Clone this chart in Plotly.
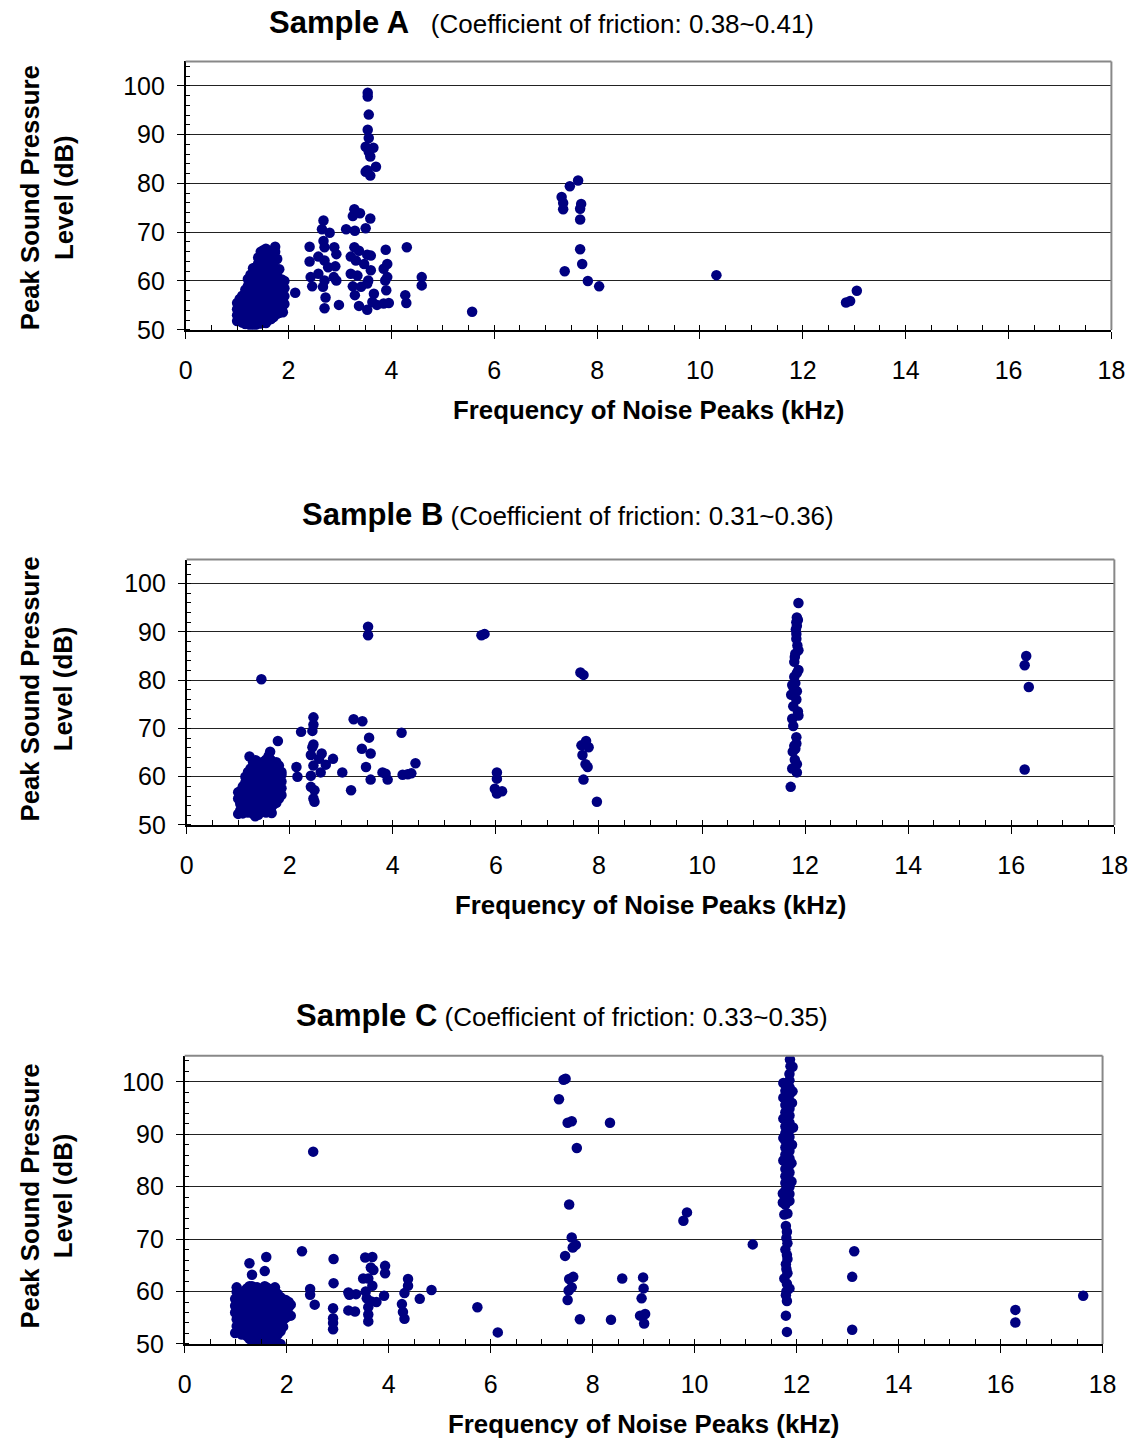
import plotly.graph_objects as go

W, H = 1147, 1454

titles = ["Sample A", "Sample B", "Sample C"]
subtitles = ["(Coefficient of friction: 0.38~0.41)",
             "(Coefficient of friction: 0.31~0.36)",
             "(Coefficient of friction: 0.33~0.35)"]
x_title = "Frequency of Noise Peaks (kHz)"
y_title = "Peak Sound Pressure<br>Level (dB)"
x_ticks = [0, 2, 4, 6, 8, 10, 12, 14, 16, 18]
y_ticks = [50, 60, 70, 80, 90, 100]

# ---------------- Sample A (frequency kHz, level dB) ----------------
a_points = [
    # dense low-frequency cluster
    (1.00, 51.8), (1.00, 53.0), (1.00, 54.2), (1.00, 55.5),
    (1.05, 52.4), (1.05, 53.8), (1.05, 55.0), (1.05, 56.3),
    (1.10, 51.5), (1.10, 52.9), (1.10, 54.4), (1.10, 55.8), (1.10, 57.0),
    (1.16, 51.2), (1.16, 52.6), (1.16, 54.0), (1.16, 55.3), (1.16, 56.7), (1.16, 58.2),
    (1.21, 51.6), (1.21, 53.1), (1.21, 54.6), (1.21, 56.1), (1.21, 57.6), (1.21, 59.0), (1.21, 60.4),
    (1.26, 50.9), (1.26, 52.3), (1.26, 53.9), (1.26, 55.4), (1.26, 56.9), (1.26, 58.3), (1.26, 59.8), (1.26, 61.3),
    (1.31, 51.4), (1.31, 52.8), (1.31, 54.3), (1.31, 55.8), (1.31, 57.2), (1.31, 58.7), (1.31, 60.2), (1.31, 61.6), (1.31, 62.6),
    (1.36, 51.0), (1.36, 52.5), (1.36, 54.0), (1.36, 55.5), (1.36, 57.0), (1.36, 58.4), (1.36, 59.9), (1.36, 61.4), (1.36, 62.8),
    (1.41, 51.7), (1.41, 53.2), (1.41, 54.7), (1.41, 56.2), (1.41, 57.7), (1.41, 59.2), (1.41, 60.6), (1.41, 62.1), (1.41, 63.6), (1.41, 64.8),
    (1.46, 51.3), (1.46, 52.8), (1.46, 54.3), (1.46, 55.9), (1.46, 57.4), (1.46, 58.8), (1.46, 60.3), (1.46, 61.8), (1.46, 63.3), (1.46, 64.9), (1.46, 66.0),
    (1.51, 51.8), (1.51, 53.4), (1.51, 54.9), (1.51, 56.4), (1.51, 57.9), (1.51, 59.5), (1.51, 61.0), (1.51, 62.5), (1.51, 64.0), (1.51, 65.5), (1.51, 66.3),
    (1.56, 51.4), (1.56, 52.9), (1.56, 54.5), (1.56, 56.0), (1.56, 57.5), (1.56, 59.0), (1.56, 60.6), (1.56, 62.1), (1.56, 63.6), (1.56, 65.0), (1.56, 66.6),
    (1.61, 52.0), (1.61, 53.5), (1.61, 55.1), (1.61, 56.6), (1.61, 58.1), (1.61, 59.7), (1.61, 61.2), (1.61, 62.7), (1.61, 64.3), (1.61, 65.8),
    (1.66, 52.2), (1.66, 53.7), (1.66, 55.2), (1.66, 56.8), (1.66, 58.3), (1.66, 59.8), (1.66, 61.3), (1.66, 62.9), (1.66, 64.6),
    (1.71, 52.6), (1.71, 54.1), (1.71, 55.7), (1.71, 57.2), (1.71, 58.7), (1.71, 60.2), (1.71, 61.8), (1.71, 63.3),
    (1.74, 67.0), (1.74, 66.0),
    (1.78, 53.3), (1.78, 54.9), (1.78, 56.4), (1.78, 57.9), (1.78, 59.5), (1.78, 61.0), (1.78, 64.5),
    (1.82, 53.5), (1.82, 55.2), (1.82, 56.8), (1.82, 58.3), (1.82, 59.9), (1.82, 62.4),
    (1.87, 54.2), (1.87, 55.8), (1.87, 57.4), (1.87, 58.9), (1.87, 60.3), (1.89, 53.6),
    (1.92, 55.3), (1.92, 56.9), (1.92, 58.5), (1.92, 60.0),
    (2.13, 57.6),
    # 2.4 - 3 kHz
    (2.41, 67.0), (2.41, 64.0), (2.43, 60.8), (2.46, 58.9), (2.68, 72.4), (2.65, 70.6),
    (2.80, 69.9), (2.68, 68.2), (2.70, 66.9), (2.89, 66.9), (2.93, 65.5), (2.58, 65.0),
    (2.70, 64.2), (2.77, 62.8), (2.91, 63.0), (2.58, 61.5), (2.70, 60.1), (2.67, 58.8),
    (2.88, 60.8), (2.93, 60.1), (2.72, 56.6), (2.70, 54.4), (2.98, 55.1),
    # 3.1 - 3.7 kHz
    (3.12, 70.6), (3.28, 74.7), (3.25, 73.3), (3.39, 73.9), (3.29, 70.3), (3.50, 70.8),
    (3.59, 72.8), (3.28, 66.9), (3.37, 66.2), (3.53, 65.4), (3.60, 65.2), (3.21, 65.0),
    (3.31, 64.2), (3.47, 63.5), (3.60, 62.2), (3.21, 61.5), (3.34, 61.1), (3.55, 60.1),
    (3.25, 58.9), (3.41, 58.8), (3.53, 59.5), (3.29, 57.1), (3.66, 57.4), (3.63, 55.7),
    (3.37, 54.9), (3.53, 54.1), (3.72, 55.1),
    # high peaks near 3.5 kHz
    (3.54, 98.6), (3.54, 97.8), (3.56, 94.1), (3.54, 91.0), (3.56, 89.3), (3.50, 87.5),
    (3.65, 87.3), (3.56, 86.5), (3.59, 85.5), (3.70, 83.4), (3.50, 82.4), (3.59, 81.6),
    (3.53, 82.7),
    # 3.9 - 4.6 kHz
    (3.89, 66.4), (3.92, 63.5), (3.85, 62.5), (3.92, 60.8), (3.88, 60.1), (3.90, 58.1),
    (3.85, 55.4), (3.95, 55.5), (4.30, 66.9), (4.27, 57.1), (4.29, 55.5), (4.59, 60.8),
    (4.59, 59.1), (5.57, 53.7),
    # 7.3 - 8 kHz
    (7.63, 80.6), (7.47, 79.4), (7.31, 77.2), (7.34, 76.0), (7.34, 74.7), (7.69, 75.8),
    (7.67, 74.8), (7.67, 72.6), (7.67, 66.5), (7.71, 63.5), (7.37, 62.0), (7.82, 60.0),
    (8.04, 58.9),
    # higher
    (10.32, 61.2), (12.84, 55.6), (12.92, 55.9), (13.05, 58.0),
]

# ---------------- Sample B ----------------
b_points = [
    (1.00, 52.3), (1.00, 55.5), (1.00, 56.8),
    (1.04, 53.0), (1.04, 54.4), (1.04, 55.8), (1.04, 57.0),
    (1.09, 52.4), (1.09, 53.8), (1.09, 55.2), (1.09, 56.6), (1.09, 58.0),
    (1.14, 53.2), (1.14, 54.6), (1.14, 56.0), (1.14, 57.4), (1.14, 58.8), (1.14, 60.0),
    (1.19, 52.6), (1.19, 54.0), (1.19, 55.4), (1.19, 56.8), (1.19, 58.2), (1.19, 59.6), (1.19, 61.0),
    (1.24, 53.3), (1.24, 54.7), (1.24, 56.1), (1.24, 57.5), (1.24, 58.9), (1.24, 60.3), (1.24, 61.7), (1.22, 64.2),
    (1.29, 52.3), (1.29, 53.7), (1.29, 55.1), (1.29, 56.5), (1.29, 57.9), (1.29, 59.3), (1.29, 60.7), (1.29, 62.1), (1.29, 63.0),
    (1.34, 52.8), (1.34, 54.2), (1.34, 55.6), (1.34, 57.0), (1.34, 58.4), (1.34, 59.8), (1.34, 61.2), (1.34, 62.6), (1.34, 63.4), (1.33, 51.8),
    (1.39, 52.1), (1.39, 53.5), (1.39, 54.9), (1.39, 56.3), (1.39, 57.7), (1.39, 59.1), (1.39, 60.5), (1.39, 61.9), (1.39, 63.0),
    (1.44, 52.9), (1.44, 54.3), (1.44, 55.7), (1.44, 57.1), (1.44, 58.5), (1.44, 59.9), (1.44, 61.3), (1.44, 62.7),
    (1.49, 53.4), (1.49, 54.8), (1.49, 56.2), (1.49, 57.6), (1.49, 59.0), (1.49, 60.4), (1.49, 61.8), (1.49, 63.1),
    (1.54, 52.6), (1.54, 54.0), (1.54, 55.4), (1.54, 56.8), (1.54, 58.2), (1.54, 59.6), (1.54, 61.0), (1.54, 62.4), (1.54, 63.5),
    (1.59, 53.0), (1.59, 54.4), (1.59, 55.8), (1.59, 57.2), (1.59, 58.6), (1.59, 60.0), (1.59, 61.4), (1.59, 62.8), (1.59, 64.3),
    (1.62, 65.2), (1.65, 52.5),
    (1.64, 53.6), (1.64, 55.0), (1.64, 56.4), (1.64, 57.8), (1.64, 59.2), (1.64, 60.6), (1.64, 62.0), (1.64, 63.4),
    (1.69, 54.3), (1.69, 55.7), (1.69, 57.1), (1.69, 58.5), (1.69, 59.9), (1.69, 61.3), (1.69, 62.7),
    (1.74, 54.6), (1.74, 56.0), (1.74, 57.4), (1.74, 58.8), (1.74, 60.2), (1.74, 61.6), (1.74, 63.0),
    (1.77, 67.4),
    (1.79, 55.5), (1.79, 56.9), (1.79, 58.3), (1.79, 59.7), (1.79, 61.1), (1.79, 62.3),
    (1.84, 56.2), (1.84, 57.6), (1.84, 59.0), (1.84, 60.4), (1.84, 61.0),
    (1.45, 80.2),
    # 2 - 4.5 kHz
    (2.22, 69.3), (2.13, 62.0), (2.15, 60.0), (2.46, 72.3), (2.46, 70.8), (2.44, 69.5),
    (2.46, 66.7), (2.44, 66.1), (2.41, 64.5), (2.62, 64.8), (2.57, 63.7), (2.70, 62.5),
    (2.84, 63.7), (2.46, 62.3), (2.60, 60.9), (2.41, 60.2), (2.41, 57.9), (2.48, 57.2),
    (2.46, 55.5), (2.48, 54.8), (3.02, 60.9), (3.19, 57.2), (3.24, 71.9), (3.41, 71.5),
    (3.54, 68.1), (3.40, 65.8), (3.57, 64.8), (3.48, 62.0), (3.57, 59.4), (4.17, 69.1),
    (4.44, 62.8), (3.80, 60.9), (3.86, 60.6), (3.90, 59.4), (4.19, 60.4), (4.29, 60.5),
    (4.36, 60.7), (3.52, 91.1), (3.52, 89.3),
    # 5.7 - 8 kHz
    (5.72, 89.3), (5.78, 89.6), (6.02, 60.9), (6.02, 59.6), (5.98, 57.5), (6.02, 56.5),
    (6.12, 57.0), (7.64, 81.6), (7.70, 81.1), (7.75, 67.4), (7.66, 66.5), (7.80, 66.1),
    (7.68, 64.5), (7.74, 62.6), (7.78, 62.0), (7.70, 59.4), (7.96, 54.8),
    # ~12 kHz column
    (11.87, 96.0), (11.84, 93.0), (11.83, 92.0), (11.84, 91.3), (11.83, 89.6), (11.83, 88.6),
    (11.87, 86.2), (11.81, 85.5), (11.79, 83.8), (11.87, 82.1), (11.79, 80.7), (11.81, 79.4),
    (11.75, 79.0), (11.84, 77.7), (11.73, 77.0), (11.83, 76.0), (11.77, 74.6), (11.87, 72.7),
    (11.75, 72.0), (11.77, 70.5), (11.83, 68.2), (11.79, 66.4), (11.81, 65.8), (11.76, 65.2),
    (11.84, 62.6), (11.75, 61.7), (11.84, 60.9), (11.72, 57.9), (11.86, 92.5), (11.82, 90.5),
    (11.85, 87.2), (11.80, 84.8), (11.84, 81.5), (11.78, 78.3), (11.86, 73.5), (11.80, 63.5),
    (11.83, 66.9),
    # ~16 kHz
    (16.29, 85.0), (16.26, 83.1), (16.34, 78.6), (16.26, 61.5),
]

# ---------------- Sample C ----------------
c_points = [
    (0.99, 52.1), (0.99, 56.0), (0.99, 57.3), (0.99, 58.6),
    (1.02, 53.4), (1.02, 54.7), (1.02, 59.9), (1.02, 60.8),
    (1.07, 52.6), (1.07, 53.9), (1.07, 55.2), (1.07, 56.5), (1.07, 57.8), (1.07, 59.1),
    (1.12, 51.8), (1.12, 53.1), (1.12, 54.4), (1.12, 55.7), (1.12, 57.0), (1.12, 58.3), (1.12, 59.6),
    (1.17, 52.3), (1.17, 53.6), (1.17, 54.9), (1.17, 56.2), (1.17, 57.5), (1.17, 58.8), (1.17, 60.1),
    (1.22, 51.5), (1.22, 52.8), (1.22, 54.1), (1.22, 55.4), (1.22, 56.7), (1.22, 58.0), (1.22, 59.3), (1.22, 60.6),
    (1.27, 51.0), (1.27, 52.3), (1.27, 53.6), (1.27, 54.9), (1.27, 56.2), (1.27, 57.5), (1.27, 58.8), (1.27, 60.1), (1.27, 61.0), (1.27, 65.4),
    (1.32, 50.6), (1.32, 51.9), (1.32, 53.2), (1.32, 54.5), (1.32, 55.8), (1.32, 57.1), (1.32, 58.4), (1.32, 59.7), (1.32, 61.0), (1.32, 63.2),
    (1.37, 51.2), (1.37, 52.5), (1.37, 53.8), (1.37, 55.1), (1.37, 56.4), (1.37, 57.7), (1.37, 59.0), (1.37, 60.3),
    (1.42, 50.4), (1.42, 51.7), (1.42, 53.0), (1.42, 54.3), (1.42, 55.6), (1.42, 56.9), (1.42, 58.2), (1.42, 59.5), (1.42, 60.8),
    (1.47, 50.9), (1.47, 52.2), (1.47, 53.5), (1.47, 54.8), (1.47, 56.1), (1.47, 57.4), (1.47, 58.7), (1.47, 60.0),
    (1.52, 50.2), (1.52, 51.5), (1.52, 52.8), (1.52, 54.1), (1.52, 55.4), (1.52, 56.7), (1.52, 58.0), (1.52, 59.3), (1.52, 60.6),
    (1.57, 50.7), (1.57, 52.0), (1.57, 53.3), (1.57, 54.6), (1.57, 55.9), (1.57, 57.2), (1.57, 58.5), (1.57, 59.8), (1.57, 61.0), (1.57, 63.9),
    (1.60, 66.6),
    (1.62, 50.3), (1.62, 51.6), (1.62, 52.9), (1.62, 54.2), (1.62, 55.5), (1.62, 56.8), (1.62, 58.1), (1.62, 59.4), (1.62, 60.7),
    (1.67, 50.8), (1.67, 52.1), (1.67, 53.4), (1.67, 54.7), (1.67, 56.0), (1.67, 57.3), (1.67, 58.6), (1.67, 59.9),
    (1.72, 50.2), (1.72, 51.5), (1.72, 52.8), (1.72, 54.1), (1.72, 55.4), (1.72, 56.7), (1.72, 58.0), (1.72, 59.3), (1.72, 60.5),
    (1.77, 51.0), (1.77, 52.3), (1.77, 53.6), (1.77, 54.9), (1.77, 56.2), (1.77, 57.5), (1.77, 58.8), (1.77, 60.0), (1.77, 60.8),
    (1.82, 51.8), (1.82, 53.1), (1.82, 54.4), (1.82, 55.7), (1.82, 57.0), (1.82, 58.3), (1.82, 59.6),
    (1.88, 50.0), (1.88, 52.4), (1.88, 53.7), (1.88, 55.0), (1.88, 56.3), (1.88, 57.6), (1.88, 58.9),
    (1.93, 53.3), (1.93, 54.6), (1.93, 55.9), (1.93, 57.2), (1.93, 58.5),
    (1.98, 55.0), (1.98, 56.3), (1.98, 57.6), (1.98, 58.4),
    (2.04, 57.0), (2.04, 58.0), (2.08, 55.4), (2.08, 57.5),
    # 2.3 - 6 kHz
    (2.52, 86.7), (2.30, 67.7), (2.92, 66.2), (2.92, 61.6), (2.46, 60.5), (2.46, 59.4),
    (2.55, 57.5), (2.91, 56.8), (2.91, 54.9), (2.91, 54.0), (2.91, 52.8), (3.21, 59.8),
    (3.23, 59.4), (3.36, 59.5), (3.21, 56.4), (3.34, 56.2), (3.54, 66.5), (3.68, 66.6),
    (3.65, 64.6), (3.70, 64.1), (3.50, 62.5), (3.60, 62.5), (3.68, 61.1), (3.55, 60.0),
    (3.57, 58.7), (3.66, 58.1), (3.76, 58.0), (3.60, 57.0), (3.60, 55.6), (3.60, 54.3),
    (3.93, 64.9), (3.93, 63.5), (3.91, 59.2), (4.38, 62.4), (4.38, 61.1), (4.31, 59.7),
    (4.26, 57.6), (4.28, 56.1), (4.31, 54.8), (4.61, 58.6), (4.84, 60.3), (5.74, 57.0),
    (6.14, 52.2),
    # 7.3 - 10 kHz
    (7.43, 100.4), (7.47, 100.6), (7.34, 96.7), (7.51, 92.2), (7.59, 92.5), (8.34, 92.2),
    (7.69, 87.4), (7.54, 76.6), (7.59, 70.3), (7.67, 68.9), (7.61, 68.4), (7.46, 66.8),
    (7.54, 62.4), (7.62, 62.8), (7.59, 60.8), (7.53, 60.2), (7.51, 58.4), (7.75, 54.7),
    (8.36, 54.6), (8.58, 62.5), (8.99, 62.7), (9.00, 60.6), (8.96, 58.7), (8.93, 55.4),
    (9.03, 55.7), (9.01, 53.9), (9.85, 75.1), (9.78, 73.5), (11.14, 69.0),
    # ~12 kHz column
    (11.78, 76.6), (11.78, 78.0), (11.78, 79.3), (11.78, 80.7), (11.78, 82.0), (11.78, 83.4),
    (11.78, 84.8), (11.78, 86.1), (11.78, 87.5), (11.78, 88.8), (11.78, 90.2), (11.78, 91.5),
    (11.78, 92.9), (11.78, 94.2), (11.78, 95.6), (11.78, 96.9), (11.78, 98.3), (11.78, 99.6),
    (11.86, 77.3), (11.86, 78.6), (11.86, 80.0), (11.86, 81.3), (11.86, 82.7), (11.86, 84.1),
    (11.86, 85.4), (11.86, 86.8), (11.86, 88.1), (11.86, 89.5), (11.86, 90.8), (11.86, 92.2),
    (11.86, 93.6), (11.86, 94.9), (11.86, 96.3), (11.86, 97.6), (11.86, 99.0), (11.86, 100.3),
    (11.86, 101.5), (11.88, 103.0), (11.87, 104.3),
    (11.74, 99.8), (11.74, 97.0), (11.74, 93.0), (11.74, 89.3), (11.74, 85.0), (11.73, 78.7),
    (11.73, 77.0), (11.76, 74.7),
    (11.92, 102.9), (11.92, 98.2), (11.91, 96.0), (11.93, 91.3), (11.91, 88.0), (11.90, 84.5),
    (11.90, 81.0),
    (11.82, 74.9), (11.79, 72.5), (11.81, 71.4), (11.80, 70.2), (11.82, 69.2), (11.78, 68.0),
    (11.81, 67.0), (11.82, 66.2), (11.79, 65.2), (11.80, 64.3), (11.82, 63.5), (11.76, 62.5),
    (11.81, 61.5), (11.86, 60.6), (11.80, 60.0), (11.79, 59.3), (11.81, 58.2), (11.79, 55.4),
    (11.81, 52.3),
    # 13 - 18 kHz
    (13.13, 67.7), (13.09, 62.8), (13.09, 52.7), (16.29, 56.5), (16.29, 54.1), (17.62, 59.2),
]

samples = [a_points, b_points, c_points]

# ---------------- layout geometry (page pixels) ----------------
plot_boxes = [  # left, right, top, bottom
    (182, 1125, 62, 333),
    (183, 1128, 565, 833),
    (181, 1116, 1066, 1357),
]
title_pos = [(544, 23), (571, 520), (565, 1025)]
xtitle_pos = [(653, 414), (655, 914), (648, 1438)]
ytitle_cy = [200, 696, 1208]
ytitle_cx = 41


def px(x):
    return x / W


def py(y):
    return 1 - y / H


FONT = "Arial, 'Liberation Sans', Helvetica, sans-serif"
NAVY = "#000080"

fig = go.Figure()
layout = dict(
    width=W, height=H,
    margin=dict(l=0, r=0, t=0, b=0),
    paper_bgcolor="white", plot_bgcolor="white",
    showlegend=False,
    font=dict(family=FONT, size=25, color="black"),
)
annotations = []
shapes = []

for i, pts in enumerate(samples):
    xs = [p[0] for p in pts]
    ys = [p[1] for p in pts]
    sfx = "" if i == 0 else str(i + 1)
    fig.add_trace(go.Scatter(
        x=xs, y=ys, mode="markers",
        marker=dict(color=NAVY, size=10.5, line=dict(width=0)),
        xaxis="x" + sfx, yaxis="y" + sfx,
    ))
    l, r, t, b = plot_boxes[i]
    xd = [px(l), px(r)]
    yd = [py(b), py(t)]
    layout["xaxis" + sfx] = dict(
        domain=xd, range=[0, 18], anchor="y" + sfx,
        tickvals=x_ticks, ticks="outside", ticklen=7, tickwidth=1, tickcolor="black",
        minor=dict(dtick=0.5, ticks="inside", ticklen=5, tickwidth=1, tickcolor="black"),
        showline=True, linecolor="black", linewidth=2,
        showgrid=False, zeroline=False,
        tickfont=dict(size=25, family=FONT, color="black"),
        ticklabelstandoff=10,
    )
    layout["yaxis" + sfx] = dict(
        domain=yd, range=[50, 105], anchor="x" + sfx,
        tickvals=y_ticks, ticks="outside", ticklen=7, tickwidth=1, tickcolor="black",
        minor=dict(dtick=2, ticks="inside", ticklen=5, tickwidth=1, tickcolor="black",
                   showgrid=False),
        showline=True, linecolor="black", linewidth=1.5,
        showgrid=True, gridcolor="#222222", gridwidth=1,
        zeroline=False,
        tickfont=dict(size=25, family=FONT, color="black"),
        ticklabelstandoff=7,
    )
    # gray frame (top and right borders)
    shapes.append(dict(type="line", xref="paper", yref="paper",
                       x0=xd[0], x1=xd[1], y0=yd[1], y1=yd[1],
                       line=dict(color="#888888", width=2)))
    shapes.append(dict(type="line", xref="paper", yref="paper",
                       x0=xd[1], x1=xd[1], y0=yd[0], y1=yd[1],
                       line=dict(color="#888888", width=2)))
    gap = "&nbsp;&nbsp;&nbsp;" if i == 0 else "&nbsp;"
    tx, ty = title_pos[i]
    annotations.append(dict(
        text=f"<span style='font-size:31px'><b>{titles[i]}</b></span>{gap}{subtitles[i]}",
        x=px(tx), y=py(ty), xref="paper", yref="paper",
        xanchor="center", yanchor="middle", showarrow=False,
        font=dict(size=26, family=FONT, color="black"),
    ))
    xx, xy = xtitle_pos[i]
    annotations.append(dict(
        text=f"<b>{x_title}</b>",
        x=px(xx), y=py(xy), xref="paper", yref="paper",
        xanchor="center", yanchor="middle", showarrow=False,
        font=dict(size=25.8, family=FONT, color="black"),
    ))
    annotations.append(dict(
        text=f"<b>{y_title}</b>",
        x=px(ytitle_cx), y=py(ytitle_cy[i]), xref="paper", yref="paper",
        xanchor="center", yanchor="middle", showarrow=False, textangle=-90,
        font=dict(size=25.8, family=FONT, color="black"),
    ))

layout["annotations"] = annotations
layout["shapes"] = shapes
fig.update_layout(**layout)
fig.write_html(
    "out.html",
    config={"displayModeBar": False},
    post_script="document.body.style.margin='0';document.body.style.overflow='hidden';",
)
